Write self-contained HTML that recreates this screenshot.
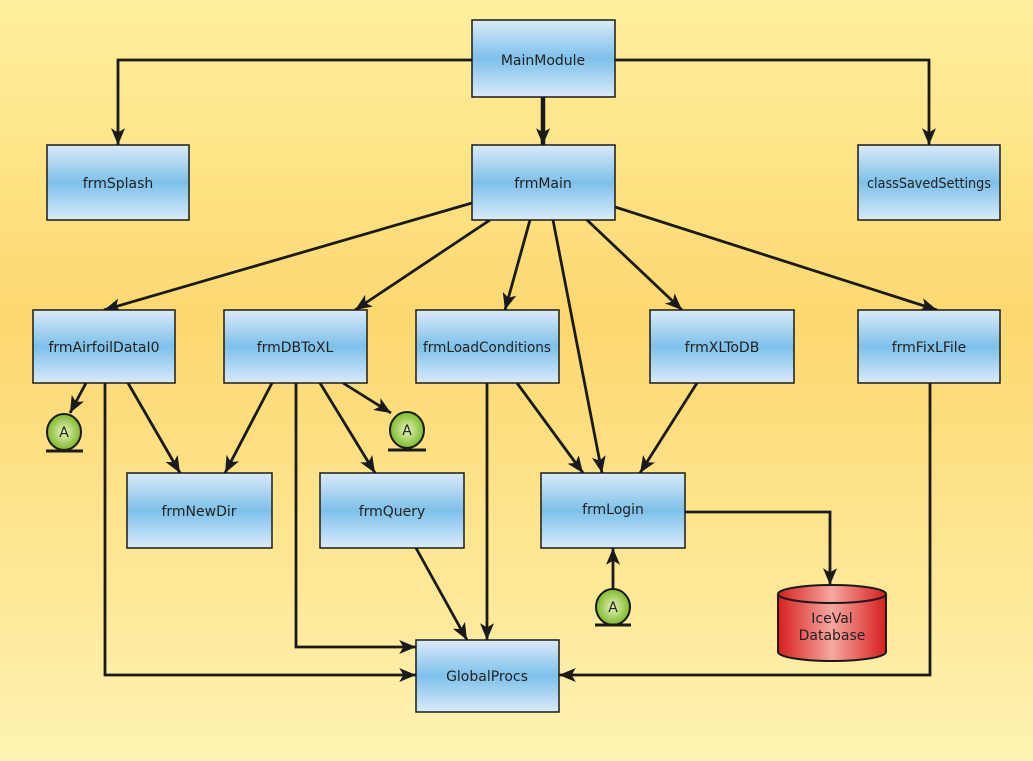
<!DOCTYPE html>
<html><head><meta charset="utf-8"><style>
html,body{margin:0;padding:0;width:1033px;height:761px;overflow:hidden}
svg{display:block}
text{font-family:"DejaVu Sans","Liberation Sans",sans-serif;font-size:14px;fill:#222}
</style></head><body>
<svg width="1033" height="761" xmlns="http://www.w3.org/2000/svg">
<defs>
<linearGradient id="bg" x1="0" y1="0" x2="0" y2="1">
<stop offset="0" stop-color="#fef09e"/><stop offset="0.42" stop-color="#fdd86f"/><stop offset="1" stop-color="#fef3b2"/>
</linearGradient>
<linearGradient id="bx" x1="0" y1="0" x2="0" y2="1">
<stop offset="0" stop-color="#d9ebf9"/><stop offset="0.5" stop-color="#7ec0ea"/><stop offset="1" stop-color="#d9ebf9"/>
</linearGradient>
<linearGradient id="cy" x1="0" y1="0" x2="1" y2="0">
<stop offset="0" stop-color="#d81e20"/><stop offset="0.5" stop-color="#f5a8a0"/><stop offset="1" stop-color="#d81e20"/>
</linearGradient>
<radialGradient id="gr" cx="0.5" cy="0.5" r="0.5">
<stop offset="0" stop-color="#e6f3b8"/><stop offset="1" stop-color="#7cba2c"/>
</radialGradient>
<marker id="a" viewBox="0 0 12 10" refX="12" refY="5" markerWidth="17" markerHeight="14" markerUnits="userSpaceOnUse" orient="auto"><path d="M0,0 L12,5 L0,10 L3,5 z" fill="#1a1a1a"/></marker>
</defs>
<rect width="1033" height="761" fill="url(#bg)"/>
<g stroke="#1a1a1a" stroke-width="2.8" fill="none">
<path d="M472,60 H118 V145" marker-end="url(#a)"/>
<path d="M615,60 H929 V145" marker-end="url(#a)"/>
<path d="M543,97 V145" stroke-width="4.5" marker-end="url(#a)"/>
<path d="M472,203 L104,310" marker-end="url(#a)"/>
<path d="M490,220 L355,310" marker-end="url(#a)"/>
<path d="M530,220 L505,310" marker-end="url(#a)"/>
<path d="M553,220 L602,473" marker-end="url(#a)"/>
<path d="M587,220 L682,310" marker-end="url(#a)"/>
<path d="M615,207 L937,310" marker-end="url(#a)"/>
<path d="M86,383 L70,413" marker-end="url(#a)"/>
<path d="M105,383 V675 H416" marker-end="url(#a)"/>
<path d="M128,383 L180,473" marker-end="url(#a)"/>
<path d="M272,383 L225,473" marker-end="url(#a)"/>
<path d="M296,383 V647 H416" marker-end="url(#a)"/>
<path d="M320,383 L375,473" marker-end="url(#a)"/>
<path d="M343,383 L391,413" marker-end="url(#a)"/>
<path d="M487,383 V640" marker-end="url(#a)"/>
<path d="M517,383 L583,473" marker-end="url(#a)"/>
<path d="M697,383 L640,473" marker-end="url(#a)"/>
<path d="M930,383 V675 H559" marker-end="url(#a)"/>
<path d="M416,548 L467,640" marker-end="url(#a)"/>
<path d="M685,512 H830 V585" marker-end="url(#a)"/>
<path d="M613,590 V548" marker-end="url(#a)"/>
</g>
<g stroke="#1a1a1a" stroke-width="1.5" fill="url(#bx)">
<rect x="472" y="20" width="143" height="77"/>
<rect x="47" y="145" width="142" height="75"/>
<rect x="472" y="145" width="143" height="75"/>
<rect x="858" y="145" width="142" height="75"/>
<rect x="33" y="310" width="142" height="73"/>
<rect x="224" y="310" width="143" height="73"/>
<rect x="416" y="310" width="143" height="73"/>
<rect x="650" y="310" width="144" height="73"/>
<rect x="858" y="310" width="142" height="73"/>
<rect x="127" y="473" width="145" height="75"/>
<rect x="320" y="473" width="144" height="75"/>
<rect x="541" y="473" width="144" height="75"/>
<rect x="416" y="640" width="143" height="72"/>
</g>
<g text-anchor="middle">
<text x="543" y="65">MainModule</text>
<text x="118" y="188">frmSplash</text>
<text x="543" y="188">frmMain</text>
<text x="929" y="188" textLength="124" lengthAdjust="spacingAndGlyphs">classSavedSettings</text>
<text x="104" y="352">frmAirfoilDataI0</text>
<text x="295" y="352">frmDBToXL</text>
<text x="487" y="352" textLength="128" lengthAdjust="spacingAndGlyphs">frmLoadConditions</text>
<text x="722" y="352">frmXLToDB</text>
<text x="929" y="352">frmFixLFile</text>
<text x="199" y="516">frmNewDir</text>
<text x="392" y="516">frmQuery</text>
<text x="613" y="514">frmLogin</text>
<text x="487" y="681">GlobalProcs</text>
</g>
<g stroke="#1a1a1a" stroke-width="2">
<path d="M778,594 V652 A54,9 0 0 0 886,652 V594" fill="url(#cy)"/>
<ellipse cx="832" cy="594" rx="54" ry="9" fill="url(#cy)"/>
</g>
<text x="832" y="623" text-anchor="middle">IceVal</text>
<text x="832" y="640" text-anchor="middle">Database</text>
<g stroke="#1a1a1a" stroke-width="2">
<ellipse cx="64" cy="432" rx="17" ry="18" fill="url(#gr)"/><line x1="46" y1="451" x2="83" y2="451" stroke-width="3"/>
<ellipse cx="407" cy="430" rx="17" ry="18" fill="url(#gr)"/><line x1="388" y1="450" x2="426" y2="450" stroke-width="3"/>
<ellipse cx="613" cy="607" rx="17" ry="18" fill="url(#gr)"/><line x1="595" y1="625" x2="631" y2="625" stroke-width="3"/>
</g>
<g text-anchor="middle" style="font-size:13px">
<text x="64" y="437">A</text><text x="407" y="435">A</text><text x="613" y="612">A</text>
</g>
</svg>
</body></html>
